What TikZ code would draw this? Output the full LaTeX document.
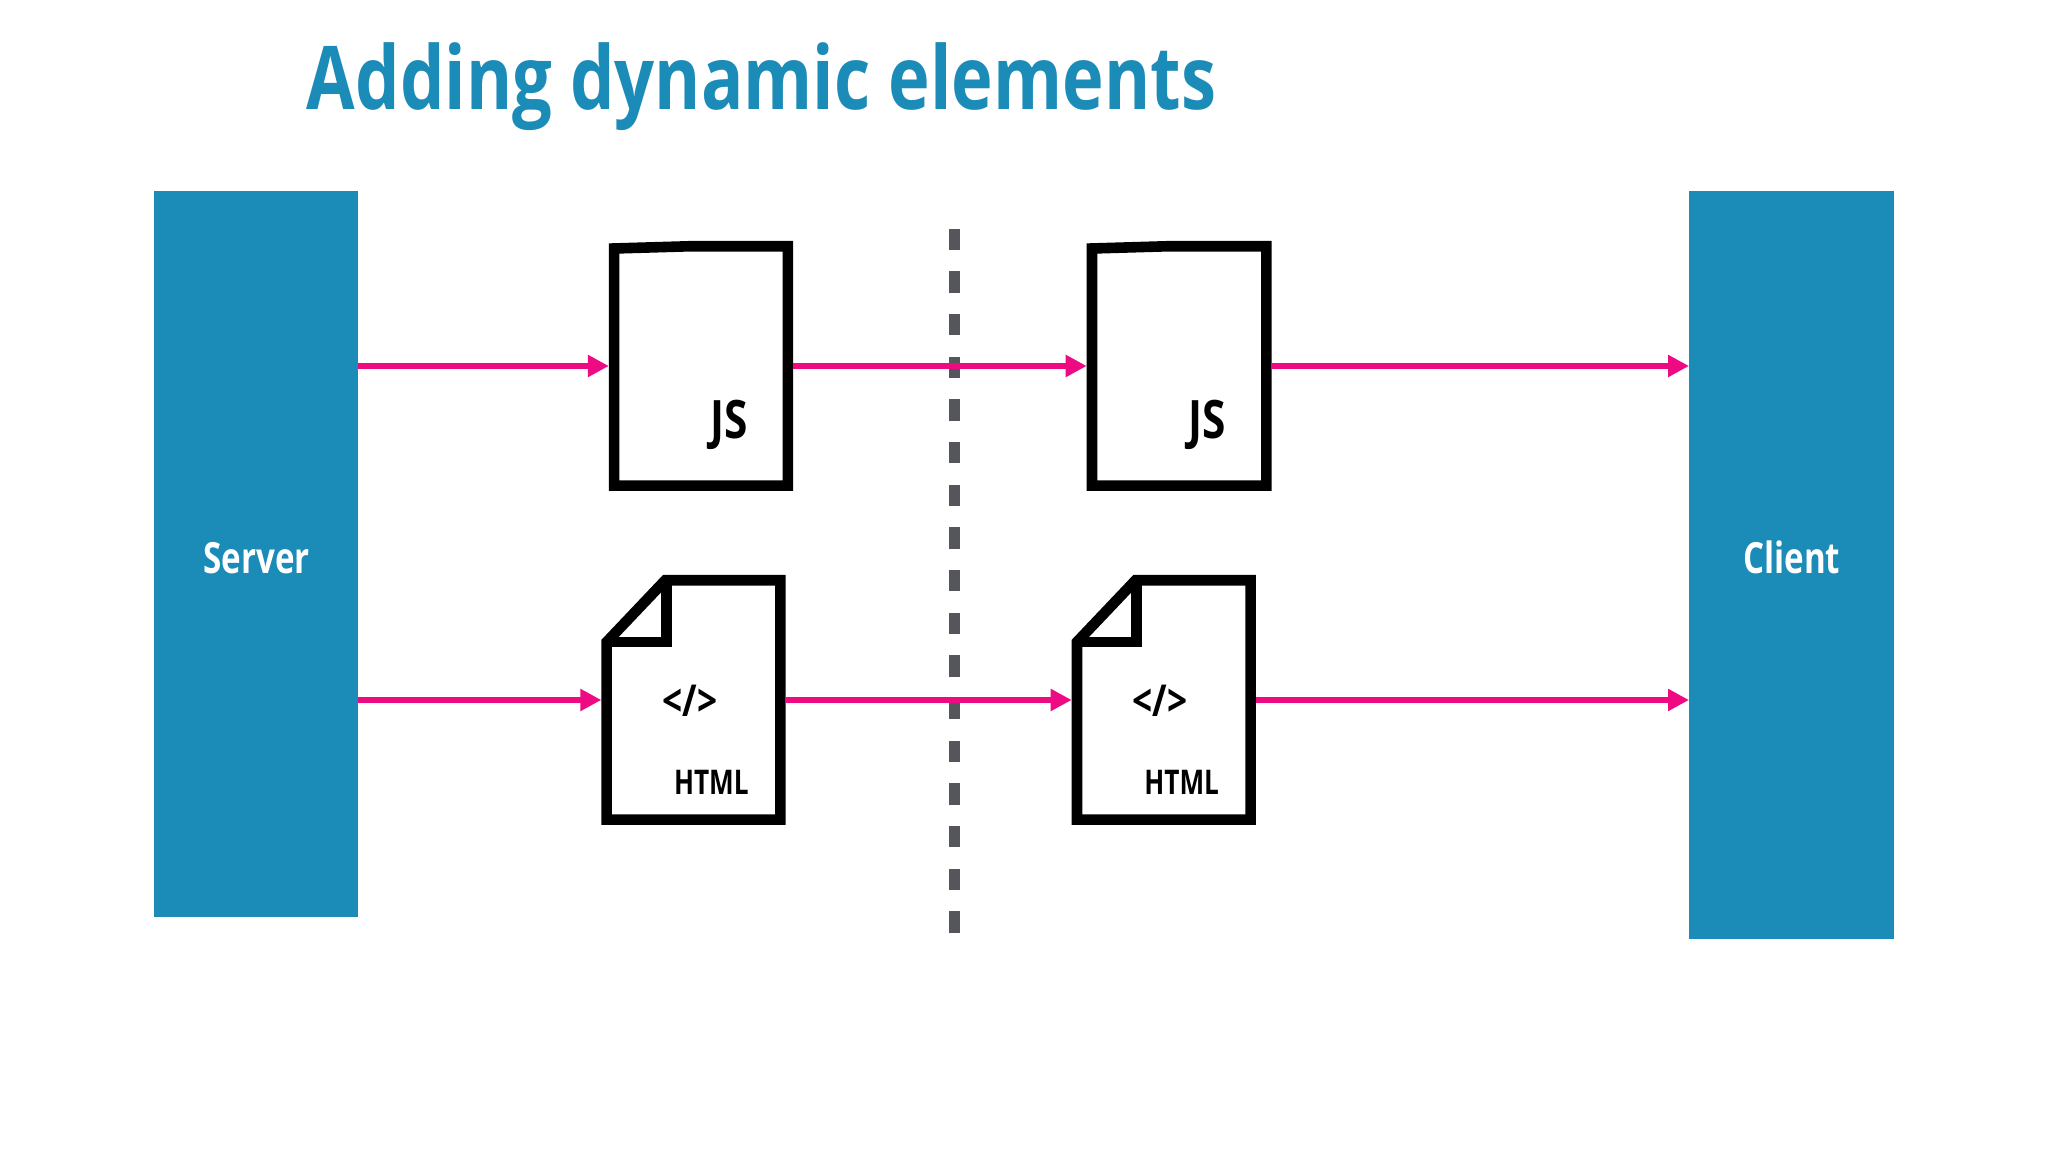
\documentclass[tikz,border=0pt]{standalone}
\usepackage{fontspec}
\usetikzlibrary{arrows.meta}
\setmainfont{Open Sans}
\newfontfamily\widebold[FakeStretch=0.80]{Open Sans Bold}
\newfontfamily\midbold[FakeStretch=0.77]{Open Sans Bold}
\definecolor{tealblue}{HTML}{1B8BB8}
\definecolor{hotpink}{HTML}{EE0A83}
\definecolor{dashgrey}{HTML}{55565B}
\tikzset{
  x=0.1mm,y=-0.1mm,
  panel/.style={fill=tealblue,draw=none,inner sep=0pt,outer sep=0pt,text=white},
  slot/.style={inner sep=0pt,outer sep=0pt,draw=none},
  outline/.style={draw=black,line width=1.06mm,miter limit=10,fill=white},
  flow/.style={draw=hotpink,line width=0.55mm,-{Triangle[length=2.1mm,width=2.1mm]},shorten >=0pt},
  divider/.style={draw=dashgrey,line width=1.07mm,dash pattern=on 2.133mm off 2.134mm},
  paneltext/.style={inner sep=0pt,anchor=base,text=white,font=\midbold\fontsize{4.3mm}{4.3mm}\selectfont},
  doctext/.style={inner sep=0pt,anchor=base,text=black},
}
\begin{document}
\begin{tikzpicture}
\useasboundingbox (0,0) rectangle (2048,1152);
\fill[white] (0,0) rectangle (2048,1152);
% panels
\node[panel,minimum width=20.4mm,minimum height=72.6mm] (srv) at (256.3,554) {};
\node[panel,minimum width=20.5mm,minimum height=74.8mm] (cli) at (1791.5,565) {};
\node[paneltext] (srvlabel) at (256.6,573.5) {Server};
\node[paneltext] (clilabel) at (1791.7,573.5) {Client};
% title
\node[inner sep=0pt,anchor=base,text=tealblue,font=\widebold\fontsize{8.8mm}{8.8mm}\selectfont] (title) at (761.5,110) {Adding dynamic elements};
% divider
\coordinate (dtop) at (954.7,228.7);
\coordinate (dbot) at (954.7,932.7);
\draw[divider] (dtop) -- (dbot);
% document slots (outer extents)
\node[slot,minimum width=18.43mm,minimum height=25mm] (js1) at (701,366) {};
\node[slot,minimum width=18.5mm,minimum height=25mm] (js2) at (1179.2,366) {};
\node[slot,minimum width=18.43mm,minimum height=25mm] (ht1) at (693.5,700) {};
\node[slot,minimum width=18.43mm,minimum height=25mm] (ht2) at (1163.8,700) {};
% JS boxes
\foreach \n in {js1,js2}{
  \draw[outline] ([xshift=.53mm,yshift=-.75mm]\n.north west) -- ([xshift=8mm,yshift=-.53mm]\n.north west) -- ([xshift=-.53mm,yshift=-.53mm]\n.north east) -- ([xshift=-.53mm,yshift=.53mm]\n.south east) -- ([xshift=.53mm,yshift=.53mm]\n.south west) -- cycle;
}
% HTML pages
\foreach \n in {ht1,ht2}{
  \draw[outline] ([xshift=.53mm,yshift=-6.7mm]\n.north west) -- ([xshift=6.39mm,yshift=-.53mm]\n.north west) -- ([xshift=-.53mm,yshift=-.53mm]\n.north east) -- ([xshift=-.53mm,yshift=.53mm]\n.south east) -- ([xshift=.53mm,yshift=.53mm]\n.south west) -- cycle;
  \draw[draw=black,line width=1.06mm] ([xshift=6.5mm,yshift=-.53mm]\n.north west) -- ([xshift=6.5mm,yshift=-6.7mm]\n.north west) -- ([xshift=.53mm,yshift=-6.7mm]\n.north west);
}
% doc labels
\foreach \n in {js1,js2}{
  \node[doctext,font=\widebold\fontsize{5.3mm}{5.3mm}\selectfont] (\n t) at ([xshift=12.05mm,yshift=-19.8mm]\n.north west) {JS};
}
\foreach \n in {ht1,ht2}{
  \node[doctext,font=\widebold\fontsize{4.4mm}{4.4mm}\selectfont] (\n a) at ([xshift=8.85mm,yshift=-14.2mm]\n.north west) {</>};
  \node[doctext,font=\midbold\fontsize{3.4mm}{3.4mm}\selectfont] (\n b) at ([xshift=11mm,yshift=-22mm]\n.north west) {HTML};
}
% connectors
\draw[flow] (srv.east |- js1.west) -- (js1.west);
\draw[flow] (js1.east) -- (js2.west);
\draw[flow] (js2.east) -- (cli.west |- js2.east);
\draw[flow] (srv.east |- ht1.west) -- (ht1.west);
\draw[flow] (ht1.east) -- (ht2.west);
\draw[flow] (ht2.east) -- (cli.west |- ht2.east);
\end{tikzpicture}
\end{document}
